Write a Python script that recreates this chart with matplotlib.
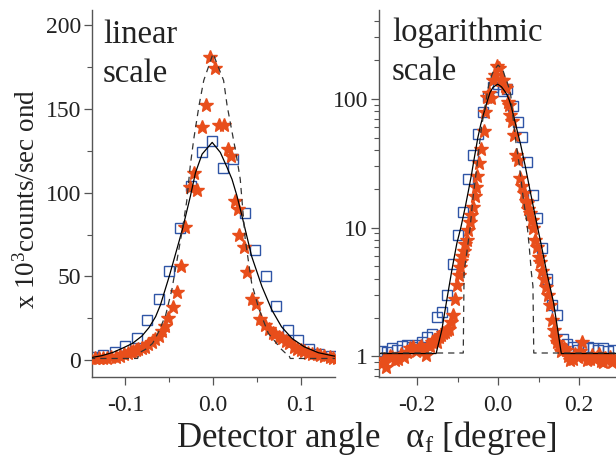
import matplotlib
matplotlib.use("Agg")
import matplotlib.pyplot as plt
from matplotlib.ticker import MultipleLocator, FixedLocator, LogLocator, NullFormatter

plt.rcParams['font.family'] = ['Liberation Serif', 'DejaVu Serif']
plt.rcParams['mathtext.fontset'] = 'custom'
plt.rcParams['mathtext.rm'] = 'Liberation Serif'
plt.rcParams['mathtext.it'] = 'Liberation Serif:italic'
plt.rcParams['axes.unicode_minus'] = False

# measured data (x = detector angle in degree, y = 10^3 counts/second)
sq_x = [-0.288, -0.275, -0.262, -0.250, -0.237, -0.225, -0.212, -0.200, -0.187, -0.175,
        -0.162, -0.150, -0.138, -0.125, -0.112, -0.100, -0.087, -0.075, -0.062, -0.050,
        -0.038, -0.025, -0.013, -0.001, 0.011, 0.023, 0.036, 0.048, 0.060, 0.072,
        0.085, 0.097, 0.109, 0.121, 0.134, 0.146, 0.159, 0.171, 0.184, 0.196,
        0.209, 0.221, 0.233, 0.246, 0.258, 0.271, 0.283]
sq_y = [1.10, 1.08, 1.15, 1.12, 1.20, 1.22, 1.18, 1.22, 1.30, 1.40,
        1.50, 2.02, 2.2, 3.0, 5.2, 8.7, 13.2, 23.8, 36.6, 53,
        79, 104, 124, 131, 115, 120, 88, 66, 50.5, 32.4,
        18, 11.8, 6.9, 4.0, 2.5, 2.08, 1.35, 1.25, 1.18, 1.12,
        1.15, 1.18, 1.15, 1.12, 1.15, 1.10, 1.12]

star_x = [-0.287, -0.281, -0.276, -0.268, -0.262, -0.254, -0.246, -0.240, -0.232, -0.224,
          -0.217, -0.210, -0.202, -0.196, -0.191, -0.184, -0.178, -0.172, -0.168, -0.163,
          -0.158, -0.152, -0.146, -0.140, -0.135, -0.130, -0.125, -0.121, -0.116, -0.111,
          -0.106, -0.101, -0.097, -0.094, -0.091, -0.088, -0.085, -0.081, -0.078, -0.074,
          -0.070, -0.066, -0.062, -0.058, -0.055, -0.051, -0.046, -0.041, -0.036, -0.032,
          -0.0265, -0.022, -0.0186, -0.013, -0.008, -0.0034, 0.0023, 0.0072, 0.0125, 0.0167,
          0.0205, 0.025, 0.028, 0.030, 0.035, 0.039, 0.0447, 0.049, 0.053, 0.059,
          0.064, 0.068, 0.071, 0.075, 0.079, 0.083, 0.087, 0.092, 0.096, 0.100,
          0.104, 0.108, 0.113, 0.118, 0.122, 0.127, 0.133, 0.137, 0.141, 0.146,
          0.151, 0.156, 0.162, 0.168, 0.173, 0.178, 0.185, 0.190, 0.196, 0.202,
          0.207, 0.213, 0.220, 0.226, 0.232, 0.238, 0.244, 0.250, 0.255, 0.259,
          0.265, 0.270, 0.275, 0.281, 0.287]
star_y = [0.88, 0.96, 0.83, 1.00, 0.99, 0.93, 0.96, 1.05, 0.98, 1.08,
          1.15, 1.18, 1.09, 1.15, 1.20, 1.12, 1.02, 1.22, 1.20, 1.28,
          1.33, 1.30, 1.40, 1.45, 1.52, 1.55, 1.60, 1.62, 1.85, 2.1,
          2.8, 3.6, 4.3, 4.9, 5.5, 6.0, 6.6, 7.5, 8.0, 9.5,
          11.0, 12.5, 14.5, 17.5, 20.5, 25.0, 31.6, 41, 56, 79.7,
          103.5, 111.7, 101.4, 139, 152.5, 181, 174.6, 140.5, 140.5, 126,
          121.7, 95, 90, 75, 67.7, 52.4, 36.6, 33.6, 24.4, 21,
          18.5, 16, 15.4, 14, 13.0, 11.5, 10, 8.0, 7.0, 5.9,
          5.4, 4.6, 4.0, 3.46, 3.0, 2.5, 1.9, 1.6, 1.41, 1.30,
          1.22, 1.10, 1.15, 1.11, 1.0, 0.93, 0.96, 1.05, 0.98, 1.10,
          1.29, 1.00, 0.94, 0.96, 1.02, 0.95, 0.98, 1.05, 0.92, 0.90,
          0.97, 0.94, 0.99, 0.91, 0.93]

# fitted curves
fit_x = [-0.29, -0.153, -0.139, -0.127, -0.114, -0.102, -0.092, -0.081, -0.073, -0.0655,
         -0.060, -0.050, -0.043, -0.035, -0.0258, -0.020, -0.0125, -0.001, 0.0083, 0.016,
         0.0216, 0.0273, 0.033, 0.044, 0.0557, 0.067, 0.078, 0.090, 0.104, 0.120,
         0.137, 0.156, 0.29]
fit_y = [1.05, 1.05, 1.6, 2.7, 4.7, 7.5, 10.0, 14.5, 19.5, 26,
         33, 50, 63, 78, 98, 112, 123, 130, 124, 115,
         108, 98, 86, 62, 44, 30, 20, 13, 8, 4.5,
         2.6, 1.05, 1.05]

dash_x = [-0.29, -0.086, -0.084, -0.077, -0.069, -0.062, -0.054, -0.047, -0.041, -0.035,
          -0.030, -0.026, -0.022, -0.016, -0.0106, 0.0, 0.012, 0.016, 0.021, 0.026,
          0.031, 0.0367, 0.044, 0.052, 0.063, 0.071, 0.077, 0.082, 0.086, 0.088, 0.29]
dash_y = [1.06, 1.06, 4.5, 6.5, 10, 17, 27, 42, 60, 78,
          95, 116, 132, 152, 167, 183, 167, 152, 138, 124,
          108, 72, 46, 31, 16, 11, 7, 4.5, 3.5, 1.06, 1.06]

blue = '#2f55a6'
orange = '#e84e1b'
W, H = 616, 461

fig = plt.figure(figsize=(W / 100, H / 100), dpi=100)
ax1 = fig.add_axes([92 / W, 1 - 377 / H, 243 / W, 367 / H])
ax2 = fig.add_axes([379 / W, 1 - 377 / H, 237 / W, 367 / H])

for ax in (ax1, ax2):
    ax.plot(sq_x, sq_y, 's', ms=6.5, mfc='none', mec=blue, mew=1.0, zorder=2)
    ax.plot(star_x, star_y, '*', ms=10.5, color=orange, mec=orange, zorder=3)
    ax.plot(fit_x, fit_y, '-', color='black', lw=0.9, zorder=4)
    ax.plot(dash_x, dash_y, '--', color='#333333', lw=0.9, dashes=(5, 4), zorder=4)
    for s in ('top', 'right'):
        ax.spines[s].set_visible(False)
    for s in ('left', 'bottom'):
        ax.spines[s].set_color('#555555')
        ax.spines[s].set_linewidth(1.0)
    ax.tick_params(which='major', direction='out', length=6, width=0.9, color='#555555',
                   labelsize=17, labelcolor='#222222')
    ax.tick_params(which='minor', direction='out', length=3.5, width=0.8, color='#555555')
    ax.tick_params(axis='x', pad=7)
    ax.tick_params(axis='y', pad=2)

# linear panel
ax1.set_xlim(-0.138, 0.139)
ax1.set_ylim(-10, 209)
ax1.xaxis.set_major_locator(FixedLocator([-0.1, 0.0, 0.1]))
ax1.xaxis.set_minor_locator(MultipleLocator(0.05))
ax1.yaxis.set_major_locator(MultipleLocator(50))
ax1.yaxis.set_minor_locator(MultipleLocator(25))
ax1.set_xticklabels(['-0.1', '0.0', '0.1'])
ax1.text(0.045, 0.975, 'linear\nscale', transform=ax1.transAxes, ha='left', va='top',
         fontsize=23.5, color='#222222', linespacing=1.38)

# logarithmic panel
ax2.set_yscale('log')
ax2.set_xlim(-0.294, 0.291)
ax2.set_ylim(0.69, 490)
ax2.xaxis.set_major_locator(FixedLocator([-0.2, 0.0, 0.2]))
ax2.xaxis.set_minor_locator(FixedLocator([-0.1, 0.1]))
ax2.set_xticklabels(['-0.2', '0.0', '0.2'])
ax2.yaxis.set_major_locator(FixedLocator([1, 10, 100]))
ax2.set_yticklabels(['1', '10', '100'])
ax2.yaxis.set_minor_locator(LogLocator(base=10, subs=range(2, 10)))
ax2.yaxis.set_minor_formatter(NullFormatter())
ax2.text(0.055, 0.98, 'logarithmic\nscale', transform=ax2.transAxes, ha='left', va='top',
         fontsize=23.5, color='#222222', linespacing=1.38)

fig.text(27 / W, 1 - 199 / H, 'x 10$^3$counts/sec ond', rotation=90, ha='center', va='center',
         fontsize=19.5, color='#222222')
fig.text(366 / W, 1 - 447 / H, r'Detector angle   $\mathrm{\alpha}_{\mathrm{f}}$ [degree]',
         ha='center', va='baseline', fontsize=25, color='#222222')

fig.savefig('out.png', dpi=100)
